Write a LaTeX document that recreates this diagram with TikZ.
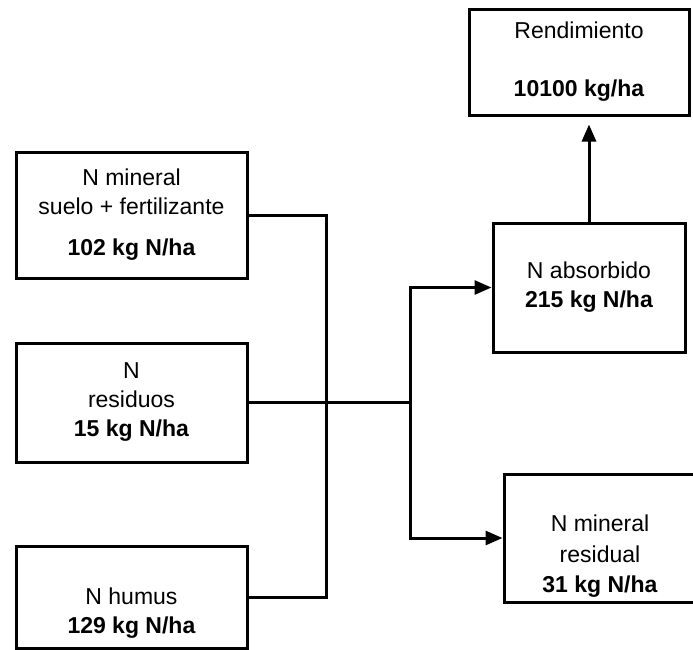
\documentclass[tikz,border=0pt]{standalone}
\usepackage{fontspec}
\setmainfont{Liberation Sans}
\usetikzlibrary{arrows.meta,positioning,calc}

\begin{document}
\begin{tikzpicture}[x=1pt,y=-1pt,line width=3pt,>={Triangle[length=17pt,width=14pt]},
  box/.style={draw,line width=3pt,align=center,inner sep=0pt,font=\fontsize{23}{29}\selectfont},
  src/.style={box,minimum width=231,minimum height=#1}]
\useasboundingbox (0,0) rectangle (693,649);
% sources
\node[src=126](min) at (131.5,215) {N mineral\\suelo + fertilizante\\[12pt]\textbf{102 kg N/ha}};
\node[src=119](res) at (131.5,402.5) {N\\residuos\\\textbf{15 kg N/ha}};
\node[src=102](hum) at (131.5,597) {\strut\\N humus\\\textbf{129 kg N/ha}};
% sinks
\node[box,minimum width=192,minimum height=129](abs) at (589,287.5) {N absorbido\\\textbf{215 kg N/ha}};
\node[box,minimum width=192,minimum height=128](resid) at (600,538) {\strut\\[3pt]N mineral\\[2pt]residual\\[1pt]\textbf{31 kg N/ha}};
\node[box,minimum width=220,minimum height=106](rend) at (579,62) {Rendimiento\\[29pt]\textbf{10100 kg/ha}};
\coordinate (sum) at (326,402.5);
\coordinate (split) at (410,402.5);
\draw (min.east) -| (sum) |- (hum.east);
\draw (res.east) -- (split);
\draw[->] (split) |- (abs.west);
\draw[->] (split) |- (resid.west);
\draw[->,shorten >=8pt] (abs.north) -- (abs.north |- rend.south);
\end{tikzpicture}
\end{document}
